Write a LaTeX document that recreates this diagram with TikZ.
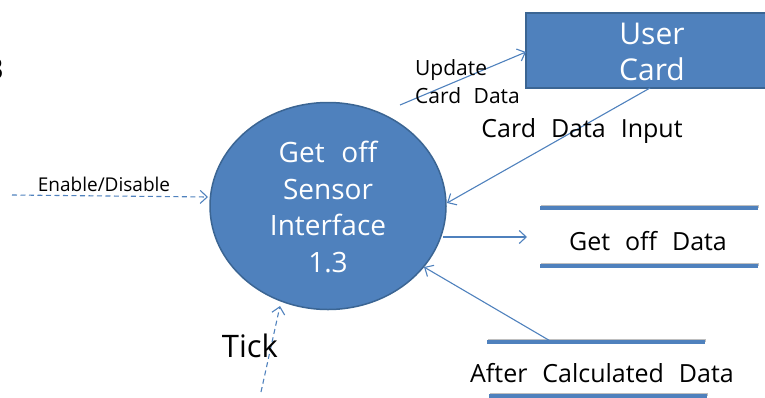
\documentclass[tikz,border=0pt]{standalone}
\usepackage{fontspec}
\setmainfont{Open Sans}[WordSpace=2.3]
\usetikzlibrary{shapes.geometric,arrows.meta}
\definecolor{ofblue}{HTML}{4F81BD}
\definecolor{ofdark}{HTML}{3B6593}
\tikzset{
  flow/.style={draw=ofblue, line width=1.1pt, -{Straight Barb[length=7pt,width=13pt,line width=1.1pt]}},
  ctrl/.style={flow, dash pattern=on 5pt off 3.5pt},
  store/.style={draw=ofblue, line width=3.8pt},
  storeshadow/.style={draw=black!25, line width=3.8pt},
  lbl/.style={inner sep=0pt, text=black},
  wlbl/.style={inner sep=0pt, text=white, align=center},
}
\begin{document}
\begin{tikzpicture}[x=1pt,y=-1pt]
\useasboundingbox (0,0) rectangle (765,397);
\begin{scope}
\clip (0,0) rectangle (765,397);
\node[lbl, font=\fontsize{29}{30}\selectfont, anchor=east] (frag) at (4,69) {3};
% process
\node[ellipse, draw=ofdark, line width=1.5pt, fill=ofblue, minimum width=236pt, minimum height=207pt, inner sep=0pt] (gs) at (328,206) {};
\node[wlbl, font=\fontsize{28}{36.5}\selectfont] (gst) at (328,207) {Get off\\Sensor\\Interface\\1.3};
% external entity
\node[draw=ofdark, line width=1.5pt, fill=ofblue, minimum width=252pt, minimum height=75pt, inner sep=0pt] (uc) at (652,50.5) {};
\node[wlbl, font=\fontsize{30}{36}\selectfont] (uct) at (652,52) {User\\Card};
% data stores
\coordinate (s1a) at (540,208); \coordinate (s1b) at (758,208);
\coordinate (s1c) at (540,266); \coordinate (s1d) at (758,266);
\draw[storeshadow] ([yshift=1.5pt,xshift=1pt]s1a) -- ([yshift=1.5pt,xshift=1pt]s1b);
\draw[storeshadow] ([yshift=1.5pt,xshift=1pt]s1c) -- ([yshift=1.5pt,xshift=1pt]s1d);
\draw[store] (s1a) -- (s1b);
\draw[store] (s1c) -- (s1d);
\node[lbl, font=\fontsize{25}{28}\selectfont] (gd) at (648,241) {Get off Data};
\coordinate (s2a) at (487,342); \coordinate (s2b) at (705,342);
\coordinate (s2c) at (489,396); \coordinate (s2d) at (707,396);
\draw[storeshadow] ([yshift=1.5pt,xshift=1pt]s2a) -- ([yshift=1.5pt,xshift=1pt]s2b);
\draw[storeshadow] ([yshift=1.5pt,xshift=1pt]s2c) -- ([yshift=1.5pt,xshift=1pt]s2d);
\draw[store] (s2a) -- (s2b);
\draw[store] (s2c) -- (s2d);
\node[lbl, font=\fontsize{25}{28}\selectfont] (acd) at (602,373) {After Calculated Data};
% connectors
\coordinate (ucfrom) at (400,105);
\coordinate (ucin) at (526,52);
\draw[flow] (ucfrom) -- (ucin);
\node[lbl, font=\fontsize{21}{28}\selectfont, align=left, anchor=west] (ucd) at (415,82) {Update\\Card Data};
\coordinate (cdiout) at (650,88);
\coordinate (cdiin) at (447,203);
\draw[flow] (cdiout) -- (cdiin);
\node[lbl, font=\fontsize{25}{28}\selectfont] (cdi) at (582,131) {Card Data Input};
\coordinate (en) at (12,195);
\coordinate (enin) at (208,197);
\draw[ctrl] (en) -- (enin);
\node[lbl, font=\fontsize{19}{22}\selectfont] (enl) at (104,184) {Enable/Disable};
\coordinate (gdout) at (443,237);
\coordinate (gdin) at (527,237);
\draw[flow] (gdout) -- (gdin);
\coordinate (acout) at (552,342);
\coordinate (acin) at (424,267);
\draw[flow] (acout) -- (acin);
\coordinate (tk) at (261,392);
\coordinate (tkin) at (280,306);
\draw[ctrl] (tk) -- (tkin);
\node[lbl, font=\fontsize{31}{34}\selectfont] (tkl) at (250,346) {Tick};
\end{scope}
\end{tikzpicture}
\end{document}
